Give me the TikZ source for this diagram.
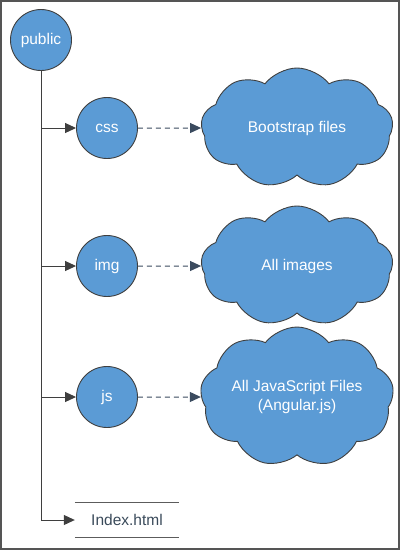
\documentclass[tikz,border=0pt]{standalone}
\usepackage{fontspec}
\setmainfont{Liberation Sans}
\usetikzlibrary{shapes.symbols,arrows.meta}
\definecolor{fillblue}{HTML}{5B9BD5}
\definecolor{edgegray}{HTML}{3F3F3F}
\definecolor{framegray}{HTML}{555555}
\definecolor{idxtext}{HTML}{3A4A5A}
\definecolor{dashcol}{HTML}{3A4A5E}
\begin{document}
\begin{tikzpicture}[x=1pt,y=-1pt,
  font=\fontsize{15.5}{18.5}\selectfont,
  dirnode/.style={circle,fill=fillblue,draw=edgegray,line width=0.9pt,minimum size=61pt,inner sep=0pt,text=white},
  cloudnode/.style={cloud,cloud puffs=9,cloud puff arc=105,aspect=1.6,fill=fillblue,draw=edgegray,line width=0.9pt,minimum width=192pt,minimum height=120pt,inner sep=0pt,text=white,align=center},
  filebox/.style={minimum width=104pt,minimum height=35pt,inner sep=0pt,text=idxtext},
  link/.style={draw=edgegray,line width=1pt,-{Triangle[length=11pt,width=10pt]}},
  dashlink/.style={link,draw=dashcol,dash pattern=on 5pt off 4pt}]
\useasboundingbox (0,0) rectangle (400,550);
\draw[framegray,line width=2pt] (1,1) rectangle (399,549);
\node[dirnode] (public) at (41,40) {public};
\node[dirnode] (css) at (107,128) {css};
\node[dirnode] (img) at (107,266) {img};
\node[dirnode] (js) at (107,397) {js};
\node[filebox] (index) at (127,520) {Index.html};
\draw[edgegray!85,line width=1pt] (index.north west) -- (index.north east);
\draw[edgegray!85,line width=1pt] (index.south west) -- (index.south east);
\node[cloudnode] (c1) at (297,128) {Bootstrap files};
\node[cloudnode] (c2) at (297,266) {All images};
\node[cloudnode] (c3) at (297,397) {All JavaScript Files\\(Angular.js)};
\coordinate (bend) at (public.south |- index.west);
\draw[edgegray,line width=1pt] (public.south) -- (bend);
\draw[link] (bend) -- (index.west);
\draw[link] (public.south |- css.west) -- (css.west);
\draw[link] (public.south |- img.west) -- (img.west);
\draw[link] (public.south |- js.west) -- (js.west);
\draw[dashlink] (css) -- (c1);
\draw[dashlink] (img) -- (c2);
\draw[dashlink] (js) -- (c3);
\end{tikzpicture}
\end{document}
